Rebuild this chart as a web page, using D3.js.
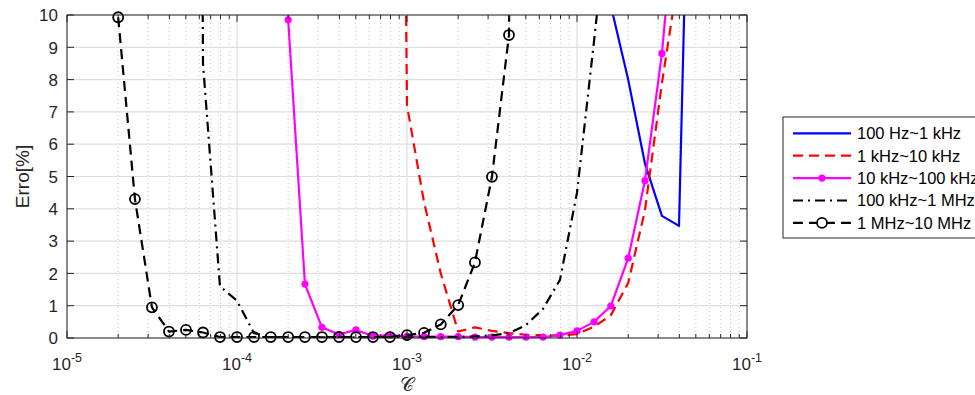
<!DOCTYPE html>
<html><head><meta charset="utf-8">
<script src="https://cdn.jsdelivr.net/npm/d3@7"></script>
<style>
body{margin:0;background:#fff}
svg{display:block}
text{font-family:"Liberation Sans",Arial,Helvetica,sans-serif}
</style>
</head><body>
<svg id="chart" width="975" height="395"></svg>
<script>
// ---------------- data ----------------
const seriesNames = ["100 Hz~1 kHz", "1 kHz~10 kHz", "10 kHz~100 kHz", "100 kHz~1 MHz", "1 MHz~10 MHz"];

// 100 Hz~1 kHz
const C1 = [1.26e-2, 1.58e-2, 2.0e-2, 2.51e-2, 3.16e-2, 3.98e-2, 5.01e-2];
const E1 = [40, 10.3, 8.0, 5.4, 3.78, 3.47, 25];

// 1 kHz~10 kHz
const C2 = [7.94e-4, 1.0e-3, 1.26e-3, 1.58e-3, 2.0e-3, 2.51e-3, 3.16e-3, 3.98e-3, 5.01e-3, 6.31e-3, 7.94e-3, 1.0e-2, 1.26e-2, 1.58e-2, 2.0e-2, 2.51e-2, 3.16e-2, 3.98e-2];
const E2 = [60, 7.2, 4.2, 2.0, 0.2, 0.33, 0.22, 0.15, 0.1, 0.08, 0.08, 0.12, 0.35, 0.7, 1.7, 3.95, 7.9, 11.3];

// 10 kHz~100 kHz
const C3 = [1.58e-4, 2.0e-4, 2.51e-4, 3.16e-4, 3.98e-4, 5.01e-4, 6.31e-4, 7.94e-4, 1.0e-3, 1.26e-3, 1.58e-3, 2.0e-3, 2.51e-3, 3.16e-3, 3.98e-3, 5.01e-3, 6.31e-3, 7.94e-3, 1.0e-2, 1.26e-2, 1.58e-2, 2.0e-2, 2.51e-2, 3.16e-2, 3.98e-2];
const E3 = [500, 9.85, 1.67, 0.33, 0.11, 0.25, 0.06, 0.09, 0.05, 0.04, 0.04, 0.04, 0.03, 0.03, 0.03, 0.03, 0.03, 0.09, 0.22, 0.5, 0.99, 2.47, 4.87, 8.81, 14.6];

// 100 kHz~1 MHz
const C4 = [5.01e-5, 6.31e-5, 7.94e-5, 1.0e-4, 1.26e-4, 1.58e-4, 2.0e-4, 2.51e-4, 3.16e-4, 3.98e-4, 5.01e-4, 6.31e-4, 7.94e-4, 1.0e-3, 1.26e-3, 1.58e-3, 2.0e-3, 2.51e-3, 3.16e-3, 3.98e-3, 5.01e-3, 6.31e-3, 7.94e-3, 1.0e-2, 1.26e-2, 1.58e-2];
const E4 = [100, 8.5, 1.6, 1.15, 0.15, 0.03, 0.02, 0.02, 0.02, 0.02, 0.02, 0.02, 0.02, 0.02, 0.02, 0.03, 0.03, 0.05, 0.08, 0.15, 0.4, 0.9, 1.8, 4.5, 9.2, 14];

// 1 MHz~10 MHz
const C5 = [2.0e-5, 2.51e-5, 3.16e-5, 3.98e-5, 5.01e-5, 6.31e-5, 7.94e-5, 1.0e-4, 1.26e-4, 1.58e-4, 2.0e-4, 2.51e-4, 3.16e-4, 3.98e-4, 5.01e-4, 6.31e-4, 7.94e-4, 1.0e-3, 1.26e-3, 1.58e-3, 2.0e-3, 2.51e-3, 3.16e-3, 3.98e-3, 5.01e-3];
const E5 = [9.93, 4.3, 0.95, 0.2, 0.25, 0.17, 0.03, 0.03, 0.03, 0.03, 0.03, 0.03, 0.03, 0.03, 0.03, 0.03, 0.03, 0.09, 0.16, 0.42, 1.02, 2.34, 4.99, 9.38, 60];

const xTickExps = [-5, -4, -3, -2, -1];
const yTicks = [0, 1, 2, 3, 4, 5, 6, 7, 8, 9, 10];
const yLabel = "Erro[%]";
const xLabel = "\u{1D49E}";

// ---------------- setup ----------------
const L = 67, R = 747, T = 15, B = 338;
const axisColor = "#262626";
const svg = d3.select("#chart");
const x = d3.scaleLog().domain([1e-5, 1e-1]).range([L, R]);
const y = d3.scaleLinear().domain([0, 10]).range([B, T]);

const majorX = xTickExps.map(e => Math.pow(10, e));
const minorX = [];
for (let i = 0; i < majorX.length - 1; i++) for (let k = 2; k <= 9; k++) minorX.push(majorX[i] * k);

// grid
const grid = svg.append("g");
grid.selectAll(".mx").data(minorX).join("line")
  .attr("x1", d => x(d)).attr("x2", d => x(d)).attr("y1", T).attr("y2", B)
  .attr("stroke", "#c4c4c4").attr("stroke-width", 1).attr("stroke-dasharray", "1,3");
grid.selectAll(".Mx").data(majorX).join("line")
  .attr("x1", d => x(d)).attr("x2", d => x(d)).attr("y1", T).attr("y2", B)
  .attr("stroke", "#dedede").attr("stroke-width", 1.2);
grid.selectAll(".My").data(yTicks).join("line")
  .attr("x1", L).attr("x2", R).attr("y1", d => y(d)).attr("y2", d => y(d))
  .attr("stroke", "#dedede").attr("stroke-width", 1.2);

// clip
svg.append("defs").append("clipPath").attr("id", "clip")
  .append("rect").attr("x", L).attr("y", T).attr("width", R - L).attr("height", B - T);

const styles = [
  {C: C1, E: E1, color: "#0000ff", dash: null, marker: null},
  {C: C2, E: E2, color: "#ff0000", dash: "10,6", marker: null},
  {C: C3, E: E3, color: "#ff00ff", dash: null, marker: "dot"},
  {C: C4, E: E4, color: "#000000", dash: "10,5,2,5", marker: null},
  {C: C5, E: E5, color: "#000000", dash: "10,6", marker: "circle"}
];

const line = d3.line().x(d => x(d[0])).y(d => y(d[1]));
const plot = svg.append("g");
styles.forEach(s => {
  const pts = s.C.map((c, i) => [c, s.E[i]]);
  plot.append("path").attr("clip-path", "url(#clip)")
    .attr("d", line(pts)).attr("fill", "none")
    .attr("stroke", s.color).attr("stroke-width", 2.2)
    .attr("stroke-dasharray", s.dash).attr("stroke-linejoin", "round");
  const vis = pts.filter(p => p[1] <= 10.1 && p[1] >= 0);
  if (s.marker === "dot") {
    plot.selectAll(null).data(vis).join("circle")
      .attr("cx", d => x(d[0])).attr("cy", d => y(d[1])).attr("r", 3.6)
      .attr("fill", s.color);
  } else if (s.marker === "circle") {
    plot.selectAll(null).data(vis).join("circle")
      .attr("cx", d => x(d[0])).attr("cy", d => y(d[1])).attr("r", 5)
      .attr("fill", "none").attr("stroke", s.color).attr("stroke-width", 1.8);
  }
});

// axes box and ticks
const ax = svg.append("g").attr("stroke", axisColor).attr("stroke-width", 1);
ax.append("rect").attr("x", L).attr("y", T).attr("width", R - L).attr("height", B - T).attr("fill", "none");
yTicks.forEach(v => {
  ax.append("line").attr("x1", L).attr("x2", L + 7).attr("y1", y(v)).attr("y2", y(v));
  ax.append("line").attr("x1", R).attr("x2", R - 7).attr("y1", y(v)).attr("y2", y(v));
});
majorX.forEach(v => {
  ax.append("line").attr("x1", x(v)).attr("x2", x(v)).attr("y1", B).attr("y2", B - 7);
  ax.append("line").attr("x1", x(v)).attr("x2", x(v)).attr("y1", T).attr("y2", T + 7);
});
minorX.forEach(v => {
  ax.append("line").attr("x1", x(v)).attr("x2", x(v)).attr("y1", B).attr("y2", B - 4);
  ax.append("line").attr("x1", x(v)).attr("x2", x(v)).attr("y1", T).attr("y2", T + 4);
});

// tick labels
svg.append("g").selectAll("text").data(yTicks).join("text")
  .attr("x", L - 9).attr("y", d => y(d) + 6.2).attr("text-anchor", "end")
  .attr("font-size", 17).attr("fill", axisColor).text(d => d);

const xt = svg.append("g").selectAll("text").data(xTickExps).join("text")
  .attr("x", d => x(Math.pow(10, d))).attr("y", 370).attr("text-anchor", "middle")
  .attr("font-size", 17).attr("fill", axisColor);
xt.append("tspan").text("10");
xt.append("tspan").attr("dy", -8).attr("font-size", 12.5).text(d => String(d));

// axis labels
svg.append("text").attr("transform", `translate(29,${(T + B) / 2}) rotate(-90)`)
  .attr("text-anchor", "middle").attr("font-size", 19).attr("fill", axisColor).text(yLabel);
svg.append("text").attr("x", x(1e-3)).attr("y", 391).attr("text-anchor", "middle")
  .attr("font-size", 19).attr("fill", axisColor)
  .style("font-family", "'DejaVu Serif','DejaVu Sans',serif").text(xLabel);

// legend
const lg = svg.append("g");
lg.append("rect").attr("x", 783).attr("y", 117).attr("width", 210).attr("height", 121)
  .attr("fill", "#fff").attr("stroke", axisColor).attr("stroke-width", 1);
styles.forEach((s, i) => {
  const cy = 133.3 + i * 22.4;
  lg.append("line").attr("x1", 793).attr("x2", 851).attr("y1", cy).attr("y2", cy)
    .attr("stroke", s.color).attr("stroke-width", 2.2).attr("stroke-dasharray", s.dash);
  if (s.marker === "dot") lg.append("circle").attr("cx", 822).attr("cy", cy).attr("r", 3.6).attr("fill", s.color);
  if (s.marker === "circle") lg.append("circle").attr("cx", 822).attr("cy", cy).attr("r", 5)
    .attr("fill", "#fff").attr("stroke", s.color).attr("stroke-width", 1.8);
  lg.append("text").attr("x", 857).attr("y", cy + 5.8).attr("font-size", 16.5).attr("fill", "#000").text(seriesNames[i]);
});
</script>
</body></html>
